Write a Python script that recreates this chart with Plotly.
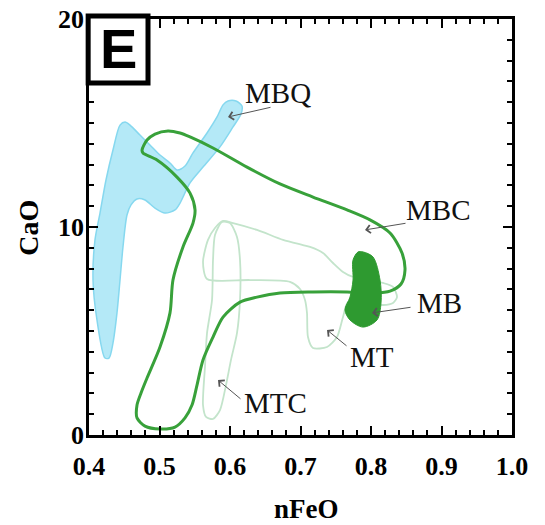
import plotly.graph_objects as go

# ---- data (nFeO, CaO) ----
mbq_x = [0.4227, 0.4113, 0.4057, 0.4085, 0.4156, 0.4241, 0.4340, 0.4440, 0.4511, 0.4582,
         0.4723, 0.4865, 0.5007, 0.5149, 0.5248, 0.5362, 0.5475, 0.5674, 0.5816, 0.5901,
         0.5972, 0.6085, 0.6170, 0.6156, 0.6043, 0.5858, 0.5617, 0.5433, 0.5291, 0.5220,
         0.5078, 0.4936, 0.4794, 0.4681, 0.4596, 0.4539, 0.4482, 0.4440, 0.4397, 0.4340,
         0.4284, 0.4227]
mbq_y = [3.70, 5.53, 7.45, 9.38, 10.67, 12.26, 13.70, 14.90, 15.05, 14.90,
         14.42, 13.94, 13.46, 13.08, 12.74, 12.93, 13.56, 14.52, 15.29, 15.87,
         16.06, 16.06, 15.82, 15.43, 14.81, 13.85, 12.88, 12.12, 11.15, 10.82,
         10.67, 10.91, 11.30, 11.35, 11.06, 10.58, 9.04, 7.45, 5.87, 4.42,
         3.70, 3.70]

mbc_x = [0.4752, 0.4823, 0.4936, 0.5121, 0.5291, 0.5433, 0.5759, 0.6241, 0.6709, 0.7177,
         0.7660, 0.7986, 0.8270, 0.8440, 0.8482, 0.8426, 0.8270, 0.8057, 0.7660, 0.7177,
         0.6709, 0.6383, 0.6142, 0.5901, 0.5759, 0.5617, 0.5532, 0.5461, 0.5362, 0.5220,
         0.5007, 0.4794, 0.4681, 0.4681, 0.4738, 0.4823, 0.5007, 0.5149, 0.5191, 0.5333,
         0.5475, 0.5504, 0.5433, 0.5248, 0.4965, 0.4766, 0.4752]
mbc_y = [13.70, 14.18, 14.47, 14.62, 14.52, 14.33, 13.80, 12.88, 12.07, 11.44,
         10.82, 10.34, 9.71, 8.75, 7.93, 7.26, 6.92, 6.83, 6.88, 6.88,
         6.83, 6.63, 6.39, 5.67, 4.71, 3.61, 2.40, 1.44, 0.82, 0.38,
         0.29, 0.43, 0.82, 1.44, 2.02, 2.74, 4.23, 5.87, 7.45, 9.04,
         10.19, 10.82, 11.63, 12.40, 13.22, 13.56, 13.70]

mb_x = [0.7887, 0.8028, 0.8128, 0.8142, 0.8085, 0.7887, 0.7702, 0.7631, 0.7702, 0.7745,
        0.7745, 0.7816, 0.7887]
mb_y = [8.80, 8.56, 7.45, 6.35, 5.53, 5.19, 5.53, 6.01, 6.63, 7.45,
        8.41, 8.80, 8.80]

mt_x = [0.5901, 0.6043, 0.6383, 0.6752, 0.7035, 0.7135, 0.7319, 0.7461, 0.7603, 0.7745,
        0.8170, 0.8312, 0.8369, 0.8312, 0.8170, 0.7915, 0.7674, 0.7603, 0.7518, 0.7376,
        0.7177, 0.7106, 0.7092, 0.7064, 0.6993, 0.6851, 0.6284, 0.5674, 0.5617, 0.5688,
        0.5787, 0.5901]
mt_y = [10.29, 10.19, 9.86, 9.38, 9.13, 9.04, 8.75, 8.27, 7.84, 7.60,
        7.31, 7.12, 6.63, 6.35, 6.25, 6.35, 6.39, 5.67, 4.71, 4.23,
        4.18, 4.71, 5.87, 6.49, 7.02, 7.36, 7.45, 7.50, 8.32, 9.38,
        9.95, 10.29]

mtc_x = [0.5887, 0.5787, 0.5759, 0.5745, 0.5674, 0.5645, 0.5617, 0.5660, 0.5759, 0.5858,
         0.5943, 0.6014, 0.6099, 0.6142, 0.6142, 0.6099, 0.6000, 0.5887]
mtc_y = [10.24, 9.62, 8.41, 6.49, 4.90, 3.27, 1.44, 0.87, 0.77, 1.20,
         2.40, 3.61, 4.90, 6.49, 8.41, 9.52, 10.19, 10.24]

labels = ["MBQ", "MBC", "MB", "MT", "MTC"]
label_x = [0.6681, 0.8950, 0.8965, 0.8014, 0.6652]
label_y = [16.44, 10.82, 6.35, 3.75, 1.54]
arrow_tail_x = [0.6596, 0.8511, 0.8582, 0.7674, 0.6170]
arrow_tail_y = [15.77, 10.19, 6.15, 4.23, 1.68]
arrow_head_x = [0.5972, 0.7915, 0.8014, 0.7376, 0.5830]
arrow_head_y = [15.29, 9.86, 5.87, 5.05, 2.64]

x_ticks = [0.4, 0.5, 0.6, 0.7, 0.8, 0.9, 1.0]
x_ticktext = ["0.4", "0.5", "0.6", "0.7", "0.8", "0.9", "1.0"]
y_ticks = [0, 10, 20]
y_ticktext = ["0", "10", "20"]

fig = go.Figure()

fig.add_trace(go.Scatter(x=mbq_x, y=mbq_y, mode="lines", fill="toself",
                         fillcolor="#b4e9f7", line=dict(color="#86d8ef", width=1.5, shape="spline", smoothing=0.8),
                         hoverinfo="skip", showlegend=False))
fig.add_trace(go.Scatter(x=mt_x, y=mt_y, mode="lines",
                         line=dict(color="#c3e4cb", width=1.8, shape="spline", smoothing=0.7),
                         hoverinfo="skip", showlegend=False))
fig.add_trace(go.Scatter(x=mtc_x, y=mtc_y, mode="lines",
                         line=dict(color="#c3e4cb", width=1.8, shape="spline", smoothing=0.7),
                         hoverinfo="skip", showlegend=False))
fig.add_trace(go.Scatter(x=mbc_x, y=mbc_y, mode="lines",
                         line=dict(color="#38a13a", width=3, shape="spline", smoothing=0.8),
                         hoverinfo="skip", showlegend=False))
fig.add_trace(go.Scatter(x=mb_x, y=mb_y, mode="lines", fill="toself",
                         fillcolor="#2e9a30", line=dict(color="#2e9a30", width=1, shape="spline", smoothing=0.9),
                         hoverinfo="skip", showlegend=False))

for i, lab in enumerate(labels):
    fig.add_annotation(x=arrow_head_x[i], y=arrow_head_y[i], ax=arrow_tail_x[i], ay=arrow_tail_y[i],
                       xref="x", yref="y", axref="x", ayref="y", text="", showarrow=True,
                       arrowhead=4, arrowsize=1.6, arrowwidth=1, arrowcolor="#555555")
    fig.add_annotation(x=label_x[i], y=label_y[i], xref="x", yref="y", text=lab, showarrow=False,
                       font=dict(family="Liberation Serif", size=29, color="#111111"))

# panel letter box
fig.add_shape(type="rect", xref="paper", yref="paper", x0=-0.002, x1=0.1395, y0=0.846, y1=1.007,
              line=dict(color="black", width=5), fillcolor="white", layer="above")
fig.add_annotation(x=0.0686, y=0.928, xref="paper", yref="paper", text="<b>E</b>", showarrow=False,
                   xanchor="center", yanchor="middle",
                   font=dict(family="Liberation Sans", size=56, color="black"))

# axis titles
fig.add_annotation(x=0.515, y=-0.178, xref="paper", yref="paper", text="<b>nFeO</b>", showarrow=False,
                   xanchor="center", yanchor="middle",
                   font=dict(family="Liberation Serif", size=27, color="black"))
fig.add_annotation(x=-0.142, y=0.498, xref="paper", yref="paper", text="<b>CaO</b>", showarrow=False,
                   xanchor="center", yanchor="middle",
                   textangle=-90, font=dict(family="Liberation Serif", size=28, color="black"))

axis_common = dict(showgrid=False, zeroline=False, showline=True, linecolor="black", linewidth=2.5,
                   ticks="inside", mirror="ticks", tickcolor="black", tickwidth=2, automargin=False,
                   ticklabeloverflow="allow",
                   tickfont=dict(family="Liberation Serif", size=26, color="black", weight="bold"))

fig.update_xaxes(range=[0.4, 1.0], tickvals=x_ticks, ticktext=x_ticktext, ticklen=9,
                 ticklabelstandoff=6,
                 minor=dict(ticks="inside", dtick=0.02, ticklen=5, tickwidth=1.5, tickcolor="black"),
                 **axis_common)
fig.update_yaxes(range=[0, 20], tickvals=y_ticks, ticktext=y_ticktext, ticklen=9,
                 ticklabelstandoff=-3,
                 minor=dict(ticks="inside", dtick=1, ticklen=5, tickwidth=1.5, tickcolor="black"),
                 **axis_common)

# page has an 8px body margin, so the figure is drawn 8px smaller and offset accordingly
fig.update_layout(template="none", width=537, height=517,
                  margin=dict(l=81, r=33, t=11, b=90, autoexpand=False),
                  plot_bgcolor="white", paper_bgcolor="white")

fig.write_html("out.html")
